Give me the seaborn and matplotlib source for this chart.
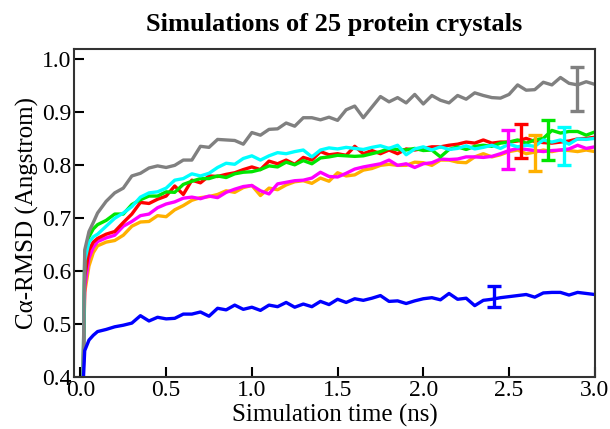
import numpy as np
import pandas as pd
import seaborn as sns
import matplotlib.pyplot as plt

# time grid (ns)
time_ns = [0.015, 0.025, 0.05, 0.075,
           0.1, 0.15, 0.2, 0.25, 0.3, 0.35, 0.4, 0.45, 0.5, 0.55,
           0.6, 0.65, 0.7, 0.75, 0.8, 0.85, 0.9, 0.95, 1.0, 1.05,
           1.1, 1.15, 1.2, 1.25, 1.3, 1.35, 1.4, 1.45, 1.5, 1.55,
           1.6, 1.65, 1.7, 1.75, 1.8, 1.85, 1.9, 1.95, 2.0, 2.05,
           2.1, 2.15, 2.2, 2.25, 2.3, 2.35, 2.4, 2.45, 2.5, 2.55,
           2.6, 2.65, 2.7, 2.75, 2.8, 2.85, 2.9, 2.95, 3.0]

rmsd_orange = [0.38, 0.56, 0.61, 0.635,
               0.648, 0.655, 0.658, 0.668, 0.685, 0.693, 0.694, 0.705, 0.703, 0.716,
               0.724, 0.734, 0.739, 0.741, 0.745, 0.752, 0.749, 0.758, 0.762, 0.743,
               0.757, 0.754, 0.763, 0.769, 0.771, 0.766, 0.776, 0.770, 0.786, 0.780,
               0.782, 0.791, 0.794, 0.800, 0.802, 0.800, 0.800, 0.806, 0.805, 0.800,
               0.810, 0.810, 0.806, 0.805, 0.816, 0.822, 0.816, 0.820, 0.826, 0.829,
               0.822, 0.825, 0.829, 0.826, 0.829, 0.828, 0.826, 0.829, 0.826]

rmsd_magenta = [0.38, 0.57, 0.625, 0.645,
                0.656, 0.663, 0.668, 0.685, 0.694, 0.705, 0.708, 0.720, 0.727, 0.731,
                0.738, 0.740, 0.737, 0.742, 0.739, 0.749, 0.755, 0.760, 0.762, 0.752,
                0.746, 0.765, 0.768, 0.771, 0.772, 0.776, 0.787, 0.779, 0.778, 0.785,
                0.793, 0.797, 0.800, 0.803, 0.810, 0.800, 0.803, 0.796, 0.803, 0.805,
                0.812, 0.811, 0.812, 0.816, 0.816, 0.815, 0.817, 0.822, 0.828, 0.832,
                0.830, 0.828, 0.826, 0.828, 0.829, 0.831, 0.838, 0.832, 0.835]

rmsd_red = [0.38, 0.59, 0.64, 0.655,
            0.662, 0.670, 0.675, 0.692, 0.708, 0.730, 0.728, 0.736, 0.742, 0.761,
            0.745, 0.772, 0.767, 0.780, 0.779, 0.783, 0.786, 0.792, 0.797, 0.792,
            0.808, 0.803, 0.810, 0.802, 0.815, 0.810, 0.826, 0.820, 0.822, 0.819,
            0.836, 0.822, 0.828, 0.822, 0.829, 0.822, 0.831, 0.829, 0.832, 0.835,
            0.835, 0.838, 0.840, 0.844, 0.842, 0.848, 0.842, 0.844, 0.844, 0.846,
            0.851, 0.845, 0.843, 0.842, 0.844, 0.846, 0.850, 0.851, 0.853]

rmsd_green = [0.38, 0.63, 0.665, 0.68,
              0.688, 0.696, 0.708, 0.708, 0.726, 0.735, 0.742, 0.742, 0.750, 0.749,
              0.764, 0.770, 0.775, 0.775, 0.780, 0.777, 0.784, 0.787, 0.788, 0.792,
              0.799, 0.797, 0.806, 0.801, 0.809, 0.803, 0.814, 0.816, 0.819, 0.818,
              0.817, 0.818, 0.822, 0.826, 0.832, 0.830, 0.829, 0.832, 0.828, 0.829,
              0.816, 0.830, 0.835, 0.830, 0.836, 0.838, 0.836, 0.842, 0.844, 0.848,
              0.842, 0.848, 0.851, 0.866, 0.861, 0.864, 0.864, 0.857, 0.863]

rmsd_cyan = [0.38, 0.62, 0.655, 0.665,
             0.670, 0.685, 0.700, 0.710, 0.722, 0.740, 0.748, 0.750, 0.757, 0.772,
             0.775, 0.784, 0.780, 0.785, 0.796, 0.804, 0.802, 0.813, 0.818, 0.810,
             0.818, 0.824, 0.822, 0.826, 0.829, 0.816, 0.829, 0.833, 0.831, 0.834,
             0.832, 0.830, 0.834, 0.837, 0.832, 0.838, 0.820, 0.831, 0.835, 0.829,
             0.835, 0.830, 0.832, 0.837, 0.831, 0.834, 0.838, 0.832, 0.840, 0.835,
             0.838, 0.836, 0.848, 0.844, 0.848, 0.840, 0.850, 0.849, 0.851]

rmsd_gray = [0.38, 0.64, 0.675, 0.692,
             0.710, 0.732, 0.748, 0.757, 0.780, 0.785, 0.795, 0.799, 0.796, 0.800,
             0.810, 0.810, 0.836, 0.834, 0.849, 0.848, 0.847, 0.840, 0.862, 0.857,
             0.868, 0.869, 0.880, 0.874, 0.890, 0.890, 0.886, 0.891, 0.885, 0.905,
             0.912, 0.890, 0.910, 0.930, 0.920, 0.928, 0.918, 0.934, 0.916, 0.932,
             0.923, 0.918, 0.932, 0.925, 0.937, 0.932, 0.928, 0.927, 0.934, 0.952,
             0.942, 0.943, 0.957, 0.952, 0.966, 0.955, 0.952, 0.958, 0.953]

rmsd_blue = [0.38, 0.45, 0.47, 0.479,
             0.486, 0.490, 0.495, 0.498, 0.502, 0.516, 0.506, 0.513, 0.510, 0.511,
             0.519, 0.519, 0.523, 0.515, 0.530, 0.527, 0.536, 0.528, 0.532, 0.526,
             0.536, 0.533, 0.541, 0.532, 0.538, 0.533, 0.543, 0.537, 0.547, 0.541,
             0.548, 0.545, 0.549, 0.554, 0.543, 0.544, 0.539, 0.544, 0.548, 0.550,
             0.546, 0.558, 0.547, 0.549, 0.535, 0.545, 0.547, 0.550, 0.552, 0.554,
             0.556, 0.551, 0.559, 0.560, 0.560, 0.555, 0.560, 0.558, 0.556]

series_names = ['orange', 'magenta', 'red', 'green', 'cyan', 'gray', 'blue']
series_colors = ['#ffb000', '#ff00ff', '#ff0000', '#00e600', '#00ffff', '#808080', '#0000ff']

# one error bar per series near the end
err_time = [2.65, 2.495, 2.57, 2.73, 2.82, 2.895, 2.41]
err_mid = [0.824, 0.830, 0.846, 0.848, 0.837, 0.944, 0.552]
err_half = [0.034, 0.037, 0.033, 0.037, 0.036, 0.042, 0.020]

all_values = [rmsd_orange, rmsd_magenta, rmsd_red, rmsd_green, rmsd_cyan, rmsd_gray, rmsd_blue]
frames = []
for name, vals in zip(series_names, all_values):
    frames.append(pd.DataFrame({'time': time_ns, 'rmsd': vals, 'crystal': name}))
df = pd.concat(frames, ignore_index=True)

sns.set_style('ticks')
plt.rcParams['font.family'] = ['Liberation Serif', 'DejaVu Serif']
plt.rcParams['xtick.direction'] = 'in'
plt.rcParams['ytick.direction'] = 'in'
plt.rcParams['text.color'] = 'black'
plt.rcParams['axes.labelcolor'] = 'black'
plt.rcParams['xtick.color'] = 'black'
plt.rcParams['ytick.color'] = 'black'

fig = plt.figure(figsize=(6.1, 4.29), dpi=100)
ax = fig.add_axes([0.122, 0.121, 0.853, 0.765])

sns.lineplot(data=df, x='time', y='rmsd', hue='crystal', hue_order=series_names,
             palette=dict(zip(series_names, series_colors)), estimator=None,
             linewidth=2.4, legend=False, ax=ax)

for t, m, e, c in zip(err_time, err_mid, err_half, series_colors):
    ax.errorbar(t, m, yerr=e, color=c, linewidth=2.4, capsize=5, capthick=2.4, zorder=5)

ax.set_xlim(-0.035, 3.0)
ax.set_ylim(0.4, 1.02)
ax.set_xticks([0.0, 0.5, 1.0, 1.5, 2.0, 2.5, 3.0])
ax.set_yticks([0.4, 0.5, 0.6, 0.7, 0.8, 0.9, 1.0])
ax.xaxis.set_major_formatter(plt.FormatStrFormatter('%.1f'))
ax.yaxis.set_major_formatter(plt.FormatStrFormatter('%.1f'))
ax.tick_params(labelsize=17, length=7, width=1.5, pad=2)

for sp in ax.spines.values():
    sp.set_visible(True)
    sp.set_linewidth(1.5)
    sp.set_color('#333333')

ax.set_xlabel('Simulation time (ns)', fontsize=18, labelpad=2)
ax.set_ylabel('Cα-RMSD (Angstrom)', fontsize=18, labelpad=2)
ax.set_title('Simulations of 25 protein crystals', fontsize=19, fontweight='bold', pad=13)

fig.savefig('out.png', dpi=100)
